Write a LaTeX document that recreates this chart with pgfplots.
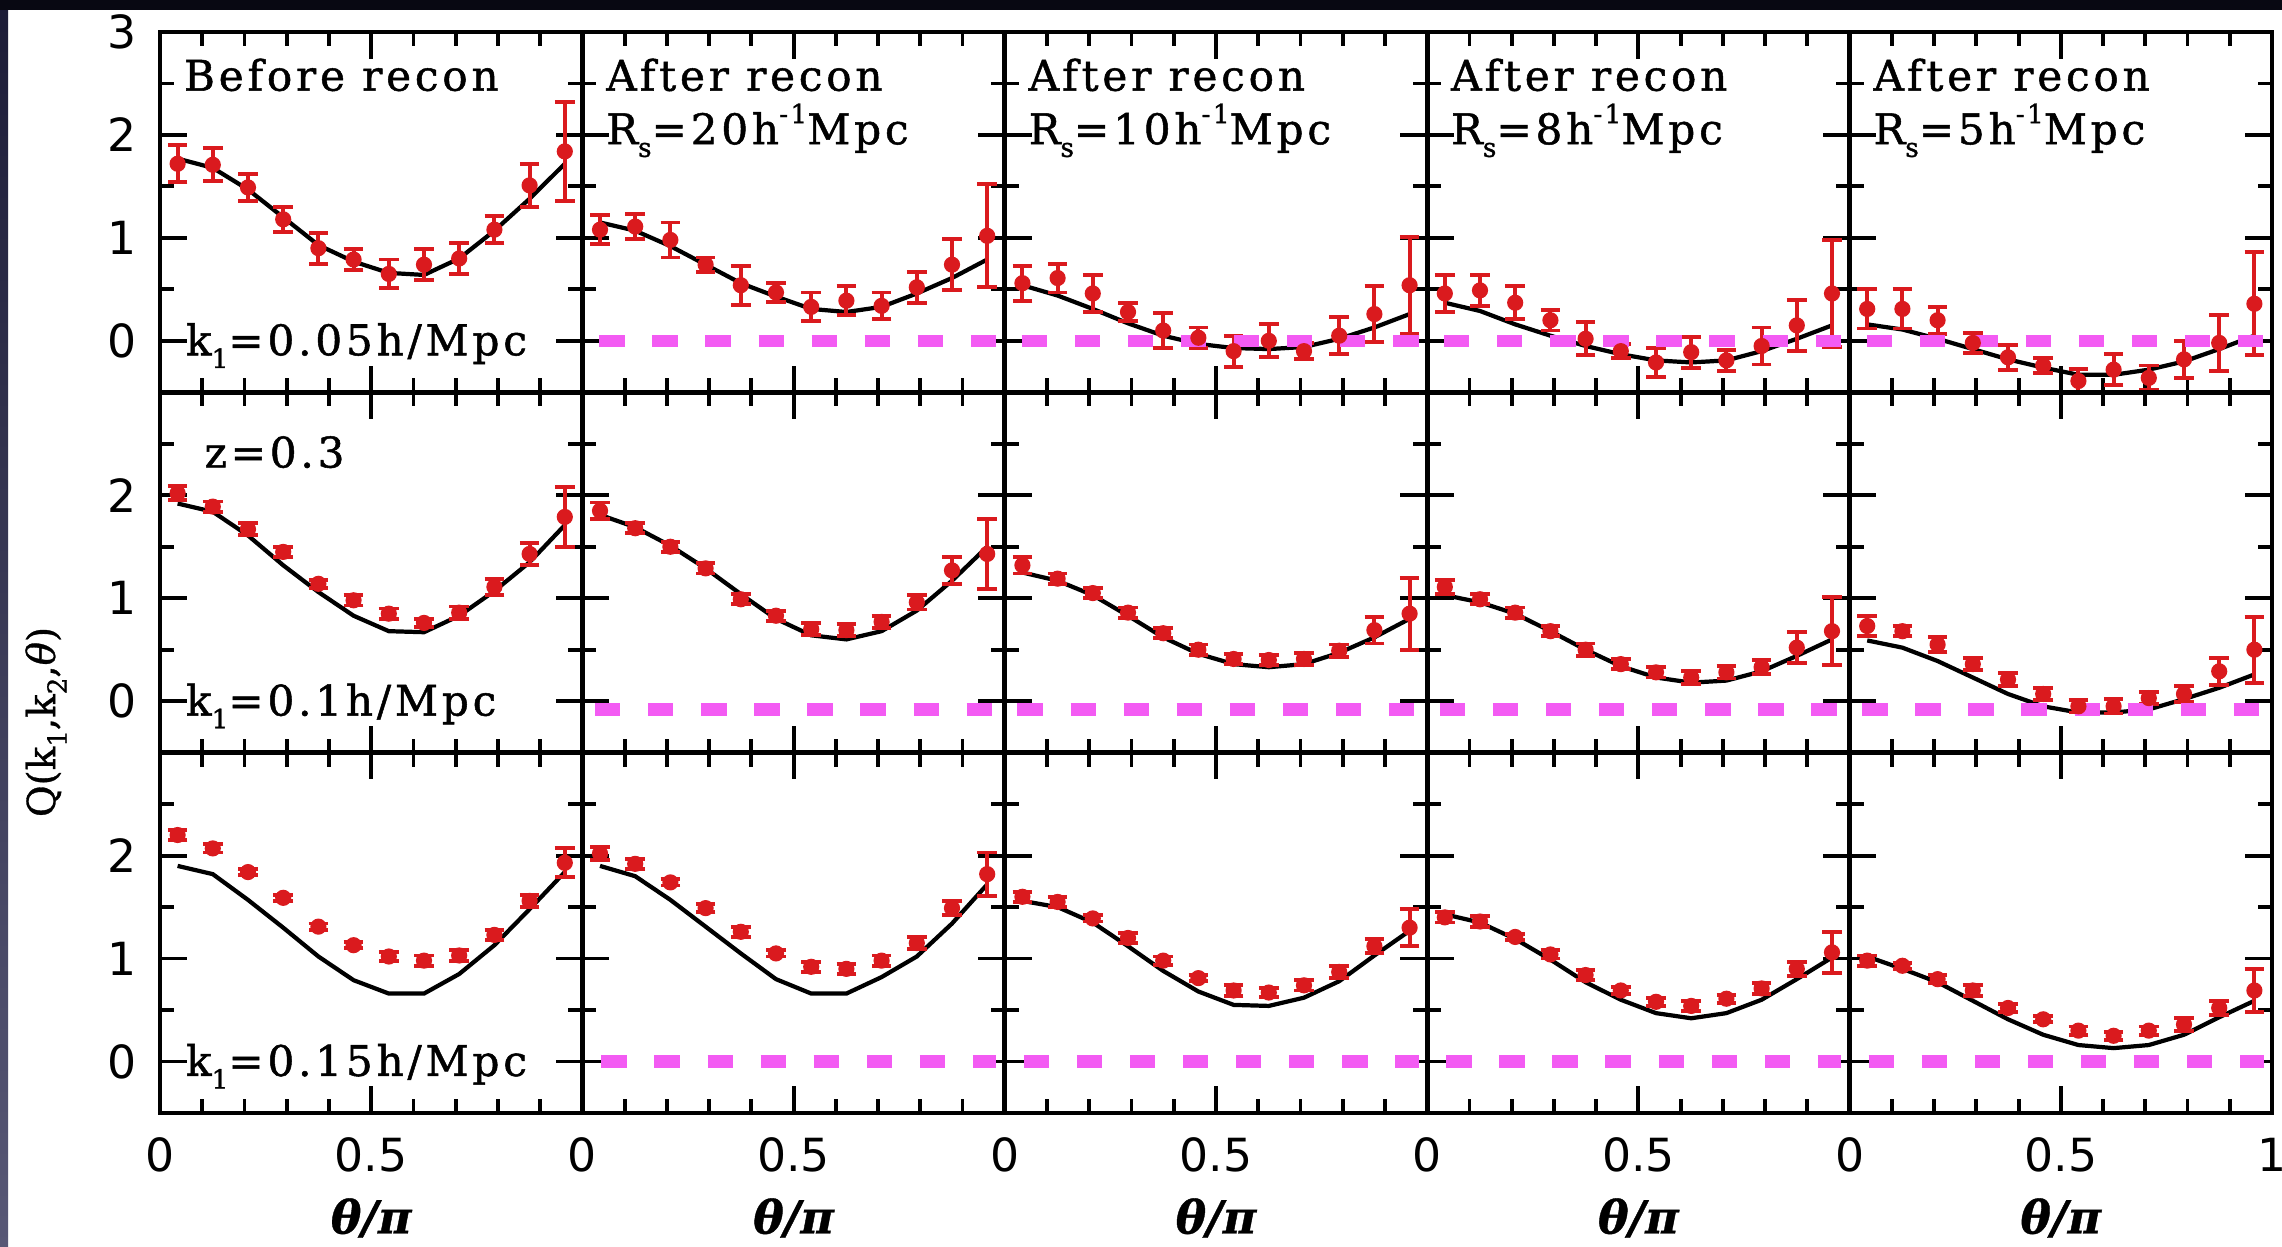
\documentclass[border=0pt]{standalone}
\usepackage{fontspec}
\usepackage{pgfplots}
\pgfplotsset{compat=1.18}
\usepackage{pgfplotstable}
\newfontfamily\pfont[LetterSpace=9,FakeBold=1.2]{DejaVu Serif}
\newfontfamily\qfont[FakeBold=0.8]{DejaVu Serif}
\newfontfamily\tfont{DejaVu Sans}
\definecolor{ptred}{RGB}{218,26,30}
\definecolor{dashmag}{RGB}{243,91,243}
\definecolor{topdark}{RGB}{8,8,18}
\definecolor{leftA}{RGB}{28,28,55}
\definecolor{leftB}{RGB}{88,88,118}
\newcommand{\lo}[1]{\raisebox{-0.3em}{\fontsize{7.5}{7.5}\selectfont #1}}
\newcommand{\hi}[1]{\raisebox{0.5em}{\fontsize{7.5}{7.5}\selectfont #1}}
\newcommand{\thpi}{{\qfont\bfseries\itshape θ/π}}

% columns: x, then for panels 1..5: y (data), e (error), t (theory)
\pgfplotstableread{
x      y1   e1   t1   y2   e2   t2   y3    e3   t3    y4    e4   t4    y5    e5   t5
0.0417 1.72 0.18 1.77 1.08 0.14 1.15 0.56  0.17 0.54  0.46  0.18 0.37  0.31  0.19 0.16
0.1250 1.71 0.16 1.68 1.11 0.12 1.07 0.61  0.14 0.44  0.49  0.15 0.29  0.31  0.19 0.11
0.2083 1.49 0.13 1.47 0.98 0.17 0.92 0.46  0.18 0.31  0.37  0.16 0.16  0.20  0.13 0.02
0.2917 1.18 0.12 1.20 0.74 0.07 0.74 0.28  0.09 0.17  0.20  0.10 0.05  -0.02 0.10 -0.08
0.3750 0.90 0.15 0.93 0.54 0.19 0.56 0.10  0.17 0.05  0.02  0.16 -0.05 -0.16 0.12 -0.18
0.4583 0.79 0.10 0.77 0.47 0.09 0.43 0.03  0.10 -0.03 -0.10 0.07 -0.13 -0.24 0.07 -0.26
0.5417 0.65 0.14 0.66 0.33 0.14 0.31 -0.10 0.15 -0.07 -0.21 0.14 -0.19 -0.39 0.12 -0.33
0.6250 0.74 0.15 0.64 0.39 0.14 0.28 0.00  0.16 -0.08 -0.11 0.15 -0.21 -0.28 0.15 -0.33
0.7083 0.80 0.15 0.80 0.34 0.13 0.33 -0.10 0.08 -0.06 -0.19 0.10 -0.19 -0.36 0.12 -0.28
0.7917 1.08 0.13 1.07 0.52 0.15 0.46 0.05  0.18 0.02  -0.05 0.18 -0.10 -0.18 0.18 -0.20
0.8750 1.51 0.21 1.38 0.74 0.25 0.61 0.26  0.27 0.13  0.15  0.25 0.02  -0.02 0.27 -0.08
0.9583 1.84 0.48 1.72 1.02 0.50 0.79 0.54  0.47 0.26  0.46  0.52 0.15  0.36  0.50 0.05
}\rowA

\pgfplotstableread{
x      y1   e1   t1   y2   e2   t2   y3   e3   t3   y4   e4   t4   y5    e5   t5
0.0417 2.02 0.07 1.92 1.85 0.08 1.81 1.32 0.08 1.25 1.11 0.07 1.03 0.73  0.10 0.59
0.1250 1.89 0.05 1.84 1.68 0.05 1.69 1.19 0.05 1.17 0.99 0.05 0.96 0.68  0.05 0.52
0.2083 1.67 0.06 1.61 1.50 0.05 1.51 1.05 0.05 1.03 0.86 0.05 0.85 0.55  0.07 0.39
0.2917 1.45 0.05 1.32 1.29 0.05 1.29 0.86 0.05 0.83 0.68 0.05 0.68 0.36  0.06 0.23
0.3750 1.14 0.04 1.06 0.99 0.05 1.04 0.66 0.05 0.62 0.50 0.06 0.50 0.21  0.06 0.07
0.4583 0.98 0.05 0.83 0.83 0.05 0.80 0.50 0.05 0.46 0.36 0.05 0.34 0.07  0.06 -0.05
0.5417 0.85 0.05 0.68 0.70 0.06 0.64 0.41 0.05 0.36 0.28 0.05 0.23 -0.05 0.06 -0.11
0.6250 0.76 0.04 0.67 0.69 0.06 0.60 0.40 0.05 0.33 0.23 0.06 0.18 -0.05 0.07 -0.11
0.7083 0.86 0.06 0.83 0.77 0.06 0.68 0.41 0.06 0.36 0.28 0.06 0.20 0.03  0.06 -0.08
0.7917 1.11 0.08 1.07 0.96 0.07 0.88 0.49 0.06 0.47 0.33 0.07 0.29 0.07  0.08 0.02
0.8750 1.43 0.11 1.35 1.27 0.13 1.17 0.69 0.13 0.62 0.52 0.15 0.44 0.29  0.13 0.13
0.9583 1.79 0.29 1.71 1.43 0.34 1.50 0.85 0.35 0.80 0.68 0.33 0.60 0.50  0.32 0.26
}\rowB

\pgfplotstableread{
x      y1   e1   t1   y2   e2   t2   y3   e3   t3   y4   e4   t4   y5   e5   t5
0.0417 2.20 0.05 1.90 2.02 0.06 1.90 1.60 0.05 1.56 1.40 0.05 1.43 0.98 0.05 1.02
0.1250 2.07 0.04 1.82 1.92 0.05 1.80 1.55 0.05 1.50 1.36 0.05 1.35 0.93 0.03 0.90
0.2083 1.84 0.03 1.57 1.74 0.03 1.57 1.39 0.03 1.35 1.21 0.03 1.19 0.80 0.04 0.77
0.2917 1.59 0.03 1.30 1.49 0.04 1.31 1.20 0.05 1.12 1.04 0.04 0.99 0.69 0.05 0.59
0.3750 1.31 0.03 1.02 1.26 0.05 1.05 0.98 0.04 0.88 0.84 0.05 0.77 0.52 0.04 0.41
0.4583 1.13 0.03 0.79 1.05 0.03 0.80 0.81 0.03 0.68 0.69 0.03 0.60 0.41 0.03 0.26
0.5417 1.02 0.04 0.66 0.92 0.05 0.66 0.69 0.05 0.55 0.58 0.04 0.47 0.30 0.04 0.16
0.6250 0.98 0.05 0.66 0.90 0.05 0.66 0.67 0.04 0.54 0.54 0.05 0.42 0.25 0.04 0.13
0.7083 1.03 0.05 0.85 0.98 0.05 0.82 0.74 0.05 0.62 0.61 0.04 0.47 0.30 0.04 0.16
0.7917 1.23 0.05 1.13 1.15 0.06 1.02 0.87 0.06 0.78 0.71 0.05 0.60 0.36 0.06 0.26
0.8750 1.56 0.06 1.48 1.49 0.07 1.34 1.12 0.07 1.03 0.90 0.07 0.80 0.52 0.07 0.43
0.9583 1.93 0.14 1.84 1.82 0.21 1.72 1.30 0.18 1.27 1.06 0.20 1.01 0.69 0.21 0.59
}\rowC

\pgfplotsset{
  panel/.style={
    scale only axis, width=4.224cm, height=3.6033cm,
    anchor=south west,
    xmin=0, xmax=1, ymin=-0.5, ymax=3,
    xtick={0,0.5,1}, ytick={0,1,2,3},
    minor xtick={0.1,0.2,0.3,0.4,0.6,0.7,0.8,0.9},
    minor ytick={0.5,1.5,2.5},
    tick align=inside, tick pos=both,
    major tick length=7.6pt, minor tick length=4pt,
    tick style={black, line width=1.1pt},
    axis line style={line width=1.4pt},
    xticklabels={}, yticklabels={},
    tick label style={font=\tfont\fontsize{13}{13}\selectfont},
    yticklabel style={xshift=-3pt},
    xticklabel style={yshift=-3.5pt},
    xlabel style={at={(axis description cs:0.5,-0.2914)}, anchor=center,
                  font=\fontsize{13}{14}\selectfont},
  },
  theory/.style={black, line width=1.2pt, no markers},
  qdata/.style={only marks, mark=*, mark size=2.1pt, color=ptred,
    mark options={fill=ptred, draw=ptred},
    error bars/.cd, y dir=both, y explicit,
    error bar style={line width=1.1pt, ptred},
    error mark options={rotate=90, mark size=2.8pt, line width=1.1pt, ptred}},
  zero/.style={dashmag, line width=3.5pt, dash pattern=on 7.2pt off 7.9pt},
}
\tikzset{
  ptext/.style={anchor=base west, inner sep=0pt, font=\pfont\fontsize{12}{14}\selectfont},
}

\begin{document}
\begin{tikzpicture}
\fill[white] (0,0) rectangle (22.82,12.47);
\shade[top color=leftA, bottom color=leftB] (0,0) rectangle (0.08,12.47);
\fill[topdark] (0,12.37) rectangle (22.82,12.47);
\path[use as bounding box] (0,0) rectangle (22.82,12.47);

% ---------------- Row A (top) ----------------
\begin{axis}[panel, at={(1.60cm,8.5467cm)}, yticklabels={0,1,2,3}]
\addplot[theory] table[x=x,y=t1]{\rowA};
\addplot[qdata] table[x=x,y=y1,y error=e1]{\rowA};
\node[ptext] at (axis cs:0.055,2.43) {Before recon};
\node[ptext] at (axis cs:0.06,-0.14) {k\lo{1}=0.05h/Mpc};
\end{axis}
\begin{axis}[panel, at={(5.824cm,8.5467cm)}]
\addplot[theory] table[x=x,y=t2]{\rowA};
\addplot[qdata] table[x=x,y=y2,y error=e2]{\rowA};
\addplot[zero] coordinates {(0.04,0) (0.98,0)};
\node[ptext] at (axis cs:0.055,2.43) {After recon};
\node[ptext] at (axis cs:0.055,1.91) {R\lo{s}=20h\hi{-1}Mpc};
\end{axis}
\begin{axis}[panel, at={(10.048cm,8.5467cm)}]
\addplot[theory] table[x=x,y=t3]{\rowA};
\addplot[qdata] table[x=x,y=y3,y error=e3]{\rowA};
\addplot[zero] coordinates {(0.04,0) (0.98,0)};
\node[ptext] at (axis cs:0.055,2.43) {After recon};
\node[ptext] at (axis cs:0.055,1.91) {R\lo{s}=10h\hi{-1}Mpc};
\end{axis}
\begin{axis}[panel, at={(14.272cm,8.5467cm)}]
\addplot[theory] table[x=x,y=t4]{\rowA};
\addplot[qdata] table[x=x,y=y4,y error=e4]{\rowA};
\addplot[zero] coordinates {(0.04,0) (0.98,0)};
\node[ptext] at (axis cs:0.055,2.43) {After recon};
\node[ptext] at (axis cs:0.055,1.91) {R\lo{s}=8h\hi{-1}Mpc};
\end{axis}
\begin{axis}[panel, at={(18.496cm,8.5467cm)}]
\addplot[theory] table[x=x,y=t5]{\rowA};
\addplot[qdata] table[x=x,y=y5,y error=e5]{\rowA};
\addplot[zero] coordinates {(0.04,0) (0.98,0)};
\node[ptext] at (axis cs:0.055,2.43) {After recon};
\node[ptext] at (axis cs:0.055,1.91) {R\lo{s}=5h\hi{-1}Mpc};
\end{axis}

% ---------------- Row B (middle) ----------------
\begin{axis}[panel, at={(1.60cm,4.9433cm)}, yticklabels={0,1,2,{}}]
\addplot[theory] table[x=x,y=t1]{\rowB};
\addplot[qdata] table[x=x,y=y1,y error=e1]{\rowB};
\node[ptext] at (axis cs:0.104,2.27) {z=0.3};
\node[ptext] at (axis cs:0.06,-0.14) {k\lo{1}=0.1h/Mpc};
\end{axis}
\begin{axis}[panel, at={(5.824cm,4.9433cm)}]
\addplot[theory] table[x=x,y=t2]{\rowB};
\addplot[qdata] table[x=x,y=y2,y error=e2]{\rowB};
\addplot[zero] coordinates {(0.03,-0.08) (0.98,-0.08)};
\end{axis}
\begin{axis}[panel, at={(10.048cm,4.9433cm)}]
\addplot[theory] table[x=x,y=t3]{\rowB};
\addplot[qdata] table[x=x,y=y3,y error=e3]{\rowB};
\addplot[zero] coordinates {(0.03,-0.08) (0.98,-0.08)};
\end{axis}
\begin{axis}[panel, at={(14.272cm,4.9433cm)}]
\addplot[theory] table[x=x,y=t4]{\rowB};
\addplot[qdata] table[x=x,y=y4,y error=e4]{\rowB};
\addplot[zero] coordinates {(0.03,-0.08) (0.98,-0.08)};
\end{axis}
\begin{axis}[panel, at={(18.496cm,4.9433cm)}]
\addplot[theory] table[x=x,y=t5]{\rowB};
\addplot[qdata] table[x=x,y=y5,y error=e5]{\rowB};
\addplot[zero] coordinates {(0.03,-0.08) (0.98,-0.08)};
\end{axis}

% ---------------- Row C (bottom) ----------------
\begin{axis}[panel, at={(1.60cm,1.34cm)}, yticklabels={0,1,2,{}},
  xticklabels={0,0.5,{}}, xlabel={\thpi}]
\addplot[theory] table[x=x,y=t1]{\rowC};
\addplot[qdata] table[x=x,y=y1,y error=e1]{\rowC};
\node[ptext] at (axis cs:0.06,-0.14) {k\lo{1}=0.15h/Mpc};
\end{axis}
\begin{axis}[panel, at={(5.824cm,1.34cm)}, xticklabels={0,0.5,{}}, xlabel={\thpi}]
\addplot[theory] table[x=x,y=t2]{\rowC};
\addplot[qdata] table[x=x,y=y2,y error=e2]{\rowC};
\addplot[zero] coordinates {(0.045,0) (0.98,0)};
\end{axis}
\begin{axis}[panel, at={(10.048cm,1.34cm)}, xticklabels={0,0.5,{}}, xlabel={\thpi}]
\addplot[theory] table[x=x,y=t3]{\rowC};
\addplot[qdata] table[x=x,y=y3,y error=e3]{\rowC};
\addplot[zero] coordinates {(0.045,0) (0.98,0)};
\end{axis}
\begin{axis}[panel, at={(14.272cm,1.34cm)}, xticklabels={0,0.5,{}}, xlabel={\thpi}]
\addplot[theory] table[x=x,y=t4]{\rowC};
\addplot[qdata] table[x=x,y=y4,y error=e4]{\rowC};
\addplot[zero] coordinates {(0.045,0) (0.98,0)};
\end{axis}
\begin{axis}[panel, at={(18.496cm,1.34cm)}, xticklabels={0,0.5,1}, xlabel={\thpi}]
\addplot[theory] table[x=x,y=t5]{\rowC};
\addplot[qdata] table[x=x,y=y5,y error=e5]{\rowC};
\addplot[zero] coordinates {(0.045,0) (0.98,0)};
\end{axis}

\node[rotate=90, font=\qfont\fontsize{11}{13}\selectfont] at (0.46,5.25)
  {Q(k\lo{1},k\lo{2},\textit{θ})};
\end{tikzpicture}
\end{document}
